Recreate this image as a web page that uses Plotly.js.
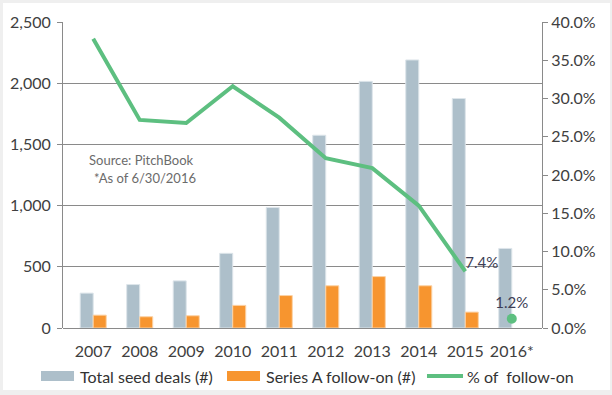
<!DOCTYPE html>
<html>
<head>
<meta charset="utf-8">
<script src="https://cdn.plot.ly/plotly-3.0.1.min.js"></script>
<style>
  html, body { margin: 0; padding: 0; background: #efefef; width: 612px; height: 395px; overflow: hidden; }
  #chart { position: absolute; left: 3px; top: 3px; width: 607px; height: 387px; background: #fff; }
</style>
</head>
<body>
<div id="chart"></div>
<script>
const years = ["2007", "2008", "2009", "2010", "2011", "2012", "2013", "2014", "2015", "2016*"];
const totalSeed = [285, 355, 385, 610, 985, 1575, 2015, 2190, 1875, 650];
const seriesA = [105, 92, 100, 185, 265, 345, 420, 345, 130, null];
const pctFollowOn = [0.378, 0.272, 0.268, 0.316, 0.275, 0.222, 0.209, 0.160, 0.074, null];
const pct2016 = [null, null, null, null, null, null, null, null, null, 0.012];
const pctLabels = ["", "", "", "", "", "", "", "", "7.4%", ""];
const pct2016Labels = ["", "", "", "", "", "", "", "", "", "1.2%"];
const seriesNames = ["Total seed deals (#)", "Series A follow-on (#)", "% of  follow-on"];

const gray = "#adbfca", orange = "#f7952f", green = "#5dbf80";
const axisGray = "#8a8a8a";
const fontFam = "Lato, 'Noto Sans', sans-serif";

const traces = [
  { type: "bar", x: years, y: totalSeed, name: seriesNames[0],
    marker: { color: gray, line: { color: "#dde5ea", width: 1 } } },
  { type: "bar", x: years, y: seriesA, name: seriesNames[1],
    marker: { color: orange, line: { color: "#fbd2a6", width: 1 } } },
  { type: "scatter", mode: "lines+text", x: years, y: pctFollowOn, yaxis: "y2",
    name: seriesNames[2], line: { color: green, width: 4 },
    text: pctLabels, textposition: "top right",
    textfont: { family: fontFam, size: 15, color: "#3d3d55" }, cliponaxis: false },
  { type: "scatter", mode: "markers+text", x: years, y: pct2016, yaxis: "y2",
    marker: { color: green, size: 10 },
    text: pct2016Labels, textposition: "top center",
    textfont: { family: fontFam, size: 15, color: "#3d3d55" }, cliponaxis: false }
];

// custom legend (rectangular swatches like the original)
const legY = -0.157;
const legendShapes = [
  { type: "rect", xref: "paper", yref: "paper", x0: -0.0459, x1: 0.0230, y0: -0.1732, y1: -0.1405,
    fillcolor: gray, line: { width: 0 } },
  { type: "rect", xref: "paper", yref: "paper", x0: 0.3424, x1: 0.4113, y0: -0.1732, y1: -0.1405,
    fillcolor: orange, line: { width: 0 } },
  { type: "line", xref: "paper", yref: "paper", x0: 0.7599, x1: 0.8351, y0: legY, y1: legY,
    line: { color: green, width: 4 } }
];
const legendTextX = [0.0313, 0.4196, 0.8392];
const legendAnn = seriesNames.map((t, i) => ({
  xref: "paper", yref: "paper", x: legendTextX[i], y: legY, xanchor: "left", yanchor: "middle",
  text: t, showarrow: false, font: { size: 16, color: "#333333" }
}));

const layout = {
  width: 607, height: 387,
  margin: { l: 60, r: 68, t: 19, b: 62, autoexpand: false },
  paper_bgcolor: "#ffffff", plot_bgcolor: "#ffffff",
  font: { family: fontFam, size: 16, color: "#404040" },
  barmode: "group", bargap: 0.44, bargroupgap: 0,
  showlegend: false,
  xaxis: { type: "category", showgrid: false, showline: false, ticks: "",
    ticklabelstandoff: 12,
    tickfont: { size: 16, color: "#404040" }, fixedrange: true },
  yaxis: { range: [0, 2500], dtick: 500, tickformat: ",d", showgrid: true,
    gridcolor: axisGray, gridwidth: 1, showline: true, linecolor: axisGray, linewidth: 1,
    ticks: "outside", ticklen: 5, tickcolor: axisGray, zeroline: true, zerolinecolor: axisGray,
    ticklabelstandoff: 3,
    tickfont: { size: 16, color: "#404040" } },
  yaxis2: { overlaying: "y", side: "right", range: [0, 0.4], dtick: 0.05, tickformat: ".1%",
    showgrid: false, showline: true, linecolor: axisGray, linewidth: 1,
    ticks: "outside", ticklen: 5, tickcolor: axisGray, zeroline: false,
    tickfont: { size: 16, color: "#404040" } },
  shapes: legendShapes,
  annotations: [
    { xref: "paper", yref: "paper", x: 0.05, y: 0.549, xanchor: "left", yanchor: "middle",
      text: "Source: PitchBook", showarrow: false, font: { size: 13, color: "#6b6b6b" } },
    { xref: "paper", yref: "paper", x: 0.0605, y: 0.49, xanchor: "left", yanchor: "middle",
      text: "*As of 6/30/2016", showarrow: false, font: { size: 13, color: "#6b6b6b" } }
  ].concat(legendAnn)
};

Plotly.newPlot("chart", traces, layout, { displayModeBar: false, staticPlot: true });
</script>
</body>
</html>
